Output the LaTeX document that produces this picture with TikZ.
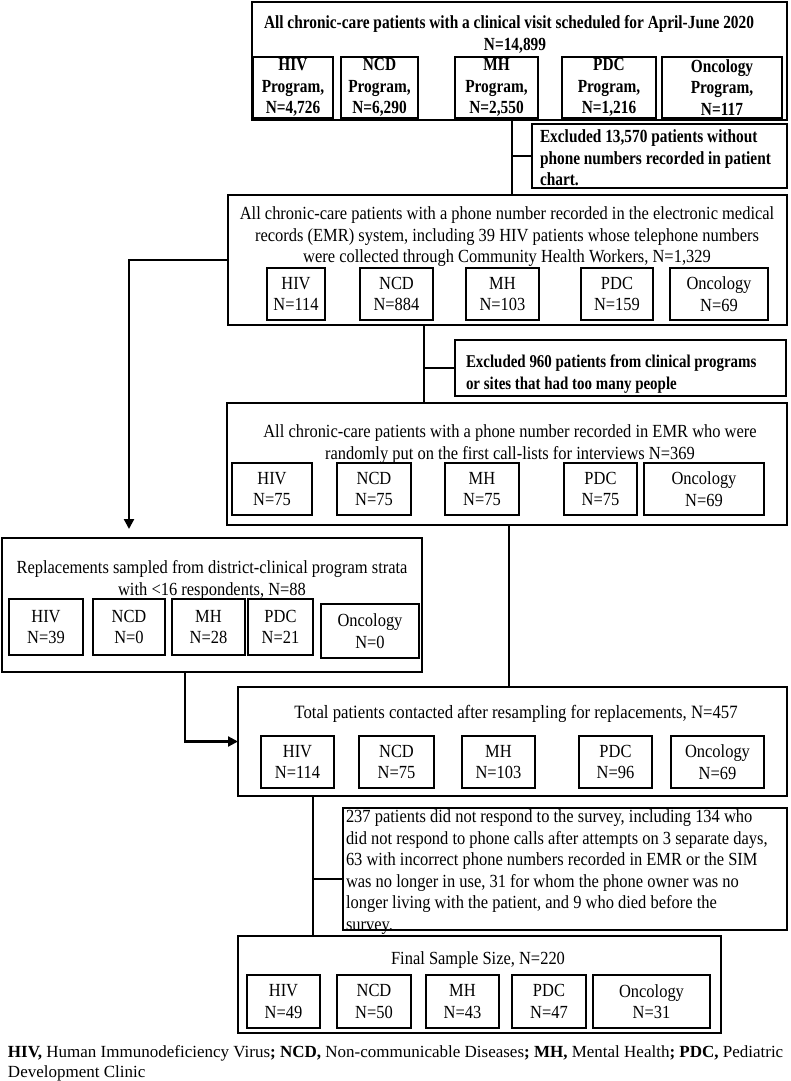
\documentclass[tikz,border=0pt]{standalone}
\usepackage{fontspec}
\usetikzlibrary{arrows.meta}
\newfontfamily\tr{Liberation Serif}[FakeStretch=0.89]
\newfontfamily\tbs{Liberation Serif}[FakeStretch=0.83]
\newcommand\tb{\tbs\bfseries}
\newfontfamily\tl{Liberation Serif}
\newcommand\fsz{\fontsize{18.5}{21.5}\selectfont}
\newcommand\rb[7][]{\node[#1, anchor=north west, minimum width={#5-#3}, minimum height={#6-#4}] (#2) at (#3,#4) {#7};}
\tikzset{
  bigbox/.style={draw, line width=2.8pt, inner sep=0pt, outer sep=0pt},
  exclbox/.style={draw, line width=2pt, inner sep=0pt, outer sep=0pt},
  subbox/.style={draw, line width=1.8pt, inner sep=0pt, outer sep=0pt, align=center, font=\tr\fsz},
  subboxb/.style={subbox, font=\tb\fsz},
  txtnode/.style={inner sep=0pt, outer sep=0pt, align=center, font=\tr\fsz},
  txtnodeb/.style={txtnode, font=\tb\fsz},
  lefttxt/.style={inner sep=0pt, outer sep=0pt, align=left, anchor=west, font=\tr\fsz},
  lefttxtb/.style={lefttxt, font=\tb\fsz},
  connline/.style={line width=2.2pt},
  arrline/.style={line width=2.2pt, -{Triangle[length=10pt,width=10pt]}}
}
\begin{document}
\begin{tikzpicture}[x=1pt,y=-1pt]
\useasboundingbox (0,0) rectangle (790,1081);
\fill[white] (0,0) rectangle (790,1081);

% Box A
\rb[bigbox]{A}{252}{2}{787}{120}{}
\node[txtnodeb] (Atitle) at (509,24) {All chronic-care patients with a clinical visit scheduled for April-June 2020};
\node[txtnodeb] (An) at (515,46) {N=14,899};
\rb[subboxb]{A1}{253}{57}{333}{118}{HIV\\Program,\\N=4,726}
\rb[subboxb]{A2}{341}{57}{418}{118}{NCD\\Program,\\N=6,290}
\rb[subboxb]{A3}{455}{57}{538}{118}{MH\\Program,\\N=2,550}
\rb[subboxb]{A4}{562}{57}{656}{118}{PDC\\Program,\\N=1,216}
\rb[subboxb]{A5}{662}{57}{782}{118}{Oncology\\Program,\\N=117}

% Exclusion 1
\rb[exclbox]{E1}{532}{124}{787}{188}{}
\node[lefttxtb] (E1t) at (540,158) {Excluded 13,570 patients without\\phone numbers recorded in patient\\chart.};

% Box B
\rb[bigbox]{B}{228}{195}{787}{325}{}
\node[txtnode] (Bt) at (507,237) {All chronic-care patients with a phone number recorded in the electronic medical\\records (EMR) system, including 39 HIV patients whose telephone numbers\\were collected through Community Health Workers, N=1,329};
\rb[subbox]{B1}{267}{268}{325}{320}{HIV\\N=114}
\rb[subbox]{B2}{360}{268}{433}{320}{NCD\\N=884}
\rb[subbox]{B3}{466}{268}{539}{320}{MH\\N=103}
\rb[subbox]{B4}{581}{268}{653}{320}{PDC\\N=159}
\rb[subbox]{B5}{670}{268}{768}{320}{Oncology\\N=69}

% Exclusion 2
\rb[exclbox]{E2}{455}{340}{786}{396}{}
\node[lefttxtb, font=\tb\fontsize{18}{21.5}\selectfont] (E2t) at (466,374) {Excluded 960 patients from clinical programs\\or sites that had too many people};

% Box C
\rb[bigbox]{C}{227}{403}{787}{525}{}
\node[txtnode] (Ct) at (510,444) {All chronic-care patients with a phone number recorded in EMR who were\\randomly put on the first call-lists for interviews N=369};
\rb[subbox]{C1}{232}{463}{312}{515}{HIV\\N=75}
\rb[subbox]{C2}{337}{463}{411}{515}{NCD\\N=75}
\rb[subbox]{C3}{445}{463}{519}{515}{MH\\N=75}
\rb[subbox]{C4}{564}{463}{637}{515}{PDC\\N=75}
\rb[subbox]{C5}{644}{463}{764}{515}{Oncology\\N=69}

% Box D
\rb[bigbox]{D}{2}{538}{422}{672}{}
\node[txtnode] (Dt) at (212,580) {Replacements sampled from district-clinical program strata\\with <16 respondents, N=88};
\rb[subbox]{D1}{9}{599}{83}{655}{HIV\\N=39}
\rb[subbox]{D2}{93}{599}{165}{655}{NCD\\N=0}
\rb[subbox]{D3}{172}{599}{245}{655}{MH\\N=28}
\rb[subbox]{D4}{248}{599}{313}{655}{PDC\\N=21}
\rb[subbox]{D5}{321}{604}{419}{658}{Oncology\\N=0}

% Box E
\rb[bigbox]{E}{238}{687}{787}{796}{}
\node[txtnode, font=\tr\fontsize{18.8}{21.5}\selectfont] (Et) at (516,714) {Total patients contacted after resampling for replacements, N=457};
\rb[subbox]{E1b}{261}{736}{334}{788}{HIV\\N=114}
\rb[subbox]{E2b}{359}{736}{434}{788}{NCD\\N=75}
\rb[subbox]{E3b}{462}{736}{535}{788}{MH\\N=103}
\rb[subbox]{E4b}{579}{736}{652}{788}{PDC\\N=96}
\rb[subbox]{E5b}{671}{736}{764}{788}{Oncology\\N=69}

% Exclusion 3
\rb[exclbox]{X3}{343}{808}{787}{930}{}
\node[lefttxt] (X3t) at (346,872) {237 patients did not respond to the survey, including 134 who\\did not respond to phone calls after attempts on 3 separate days,\\63 with incorrect phone numbers recorded in EMR or the SIM\\was no longer in use, 31 for whom the phone owner was no\\longer living with the patient, and 9 who died before the\\survey.};

% Box F
\rb[bigbox]{F}{238}{936}{721}{1033}{}
\node[txtnode] (Ft) at (478,960) {Final Sample Size, N=220};
\rb[subbox]{F1}{247}{975}{320}{1028}{HIV\\N=49}
\rb[subbox]{F2}{337}{975}{411}{1028}{NCD\\N=50}
\rb[subbox]{F3}{426}{975}{499}{1028}{MH\\N=43}
\rb[subbox]{F4}{512}{975}{586}{1028}{PDC\\N=47}
\rb[subbox]{F5}{593}{975}{710}{1028}{Oncology\\N=31}

% Legend
\node[lefttxt, font=\tl\fontsize{17}{20}\selectfont] (leg) at (8,1063) {\textbf{HIV,} Human Immunodeficiency Virus\textbf{; NCD,} Non-communicable Diseases\textbf{; MH,} Mental Health\textbf{; PDC,} Pediatric\\Development Clinic};

% Connectors
\coordinate (k1) at (512,0);
\coordinate (k2) at (424,0);
\coordinate (k3) at (509,0);
\coordinate (k4) at (129,0);
\coordinate (k5) at (185,0);
\coordinate (k6) at (313,0);
\coordinate (b6) at (343,879);
\draw[connline] (A.south -| k1) -- (B.north -| k1);
\draw[connline] (k1 |- E1.west) -- (E1.west);
\draw[connline] (B.south -| k2) -- (C.north -| k2);
\draw[connline] (k2 |- E2.west) -- (E2.west);
\draw[connline] (C.south -| k3) -- (E.north -| k3);
\draw[arrline, shorten >=9pt] (B.west) -| (D.north -| k4);
\draw[arrline] (D.south -| k5) |- (E.west);
\draw[connline] (E.south -| k6) -- (F.north -| k6);
\draw[connline] (k6 |- b6) -- (b6);
\end{tikzpicture}
\end{document}
